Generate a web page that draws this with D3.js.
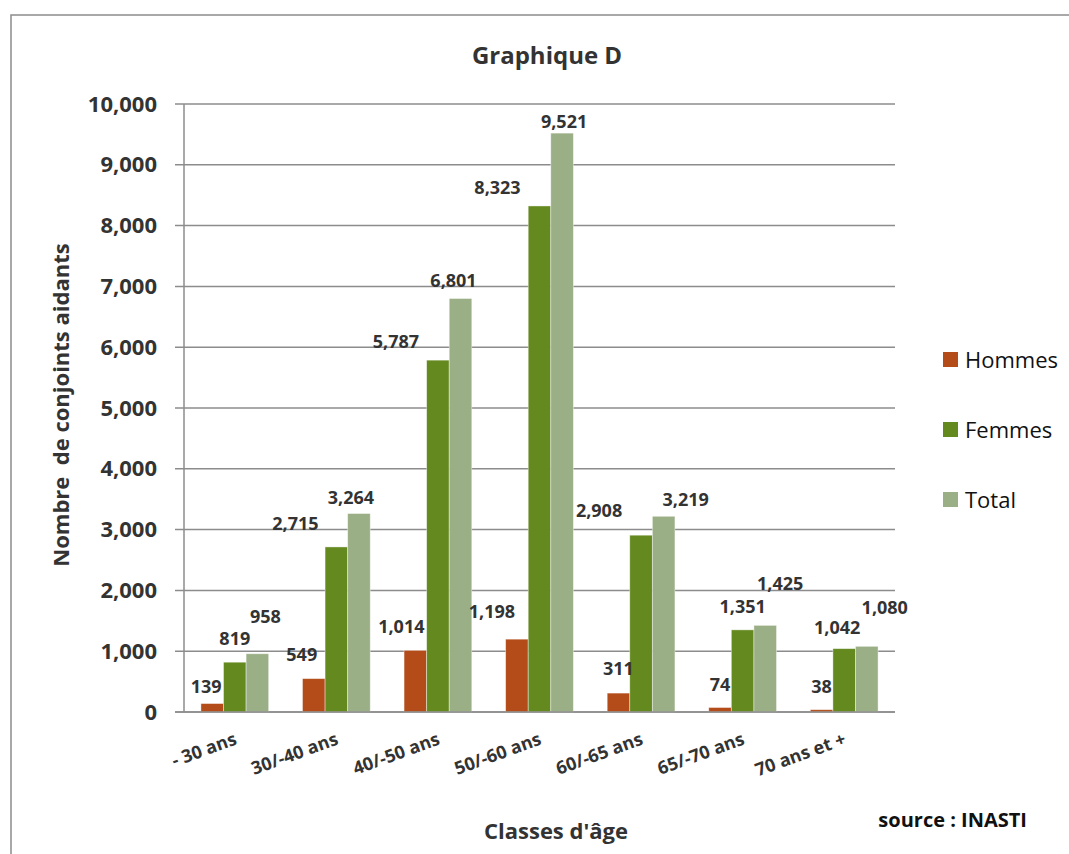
<!DOCTYPE html>
<html>
<head>
<meta charset="utf-8">
<script src="https://cdn.jsdelivr.net/npm/d3@7"></script>
<style>
  body { margin: 0; background: #fff; }
  text { font-family: "Open Sans", Lato, sans-serif; }
</style>
</head>
<body>
<svg id="chart"></svg>
<script>
// data
const categories = ["- 30 ans", "30/-40 ans", "40/-50 ans", "50/-60 ans", "60/-65 ans", "65/-70 ans", "70 ans et +"];
const seriesNames = ["Hommes", "Femmes", "Total"];
const hommes = [139, 549, 1014, 1198, 311, 74, 38];
const femmes = [819, 2715, 5787, 8323, 2908, 1351, 1042];
const total = [958, 3264, 6801, 9521, 3219, 1425, 1080];
const yTicks = [0, 1000, 2000, 3000, 4000, 5000, 6000, 7000, 8000, 9000, 10000];

// the labels in the original were hand-dragged, so keep their nudges apart
const nudgeX = [
  [-6, -12, -14, -25, 0, 0, 0],
  [0, -41, -42, -42, -42, 0, -7],
  [8, -8, -7, 2, 22, 15, 18]
];
const nudgeY = [
  [-3, -10, -9, -13, -10, -9, -9],
  [-9, -9, -4, -4, -10, -9, -7],
  [-23, -2, -3, 3, -2, -27, -24]
];

const colors = ["#b44c19", "#64891e", "#9baf86"];
const values = [hommes, femmes, total];

const width = 1069, height = 854;
const svg = d3.select("#chart").attr("width", width).attr("height", height);

// outer chart border (runs off the picture on the right and bottom)
svg.append("rect")
  .attr("x", 11).attr("y", 15)
  .attr("width", 1100).attr("height", 900)
  .attr("fill", "none").attr("stroke", "#8c8c8c").attr("stroke-width", 1.5);

const x0 = d3.scaleBand()
  .domain(categories)
  .range([184, 895])
  .paddingInner(0.333)
  .paddingOuter(0.1667);

const x1 = d3.scaleBand()
  .domain(seriesNames)
  .range([0, x0.bandwidth()]);

const y = d3.scaleLinear()
  .domain([0, 10000])
  .range([712, 104]);

// gridlines + y axis
const yAxis = d3.axisLeft(y)
  .tickValues(yTicks)
  .tickSize(0)
  .tickPadding(18)
  .tickFormat(d3.format(","));

svg.append("g")
  .selectAll("line")
  .data(yTicks)
  .join("line")
  .attr("x1", 175).attr("x2", 895)
  .attr("y1", d => y(d)).attr("y2", d => y(d))
  .attr("stroke", "#8c8c8c").attr("stroke-width", 1.5);

const gy = svg.append("g")
  .attr("transform", "translate(175,0)")
  .call(yAxis);
gy.select(".domain").remove();
gy.selectAll("text")
  .attr("font-size", 22).attr("font-weight", "bold").attr("fill", "#333")
  .style("font-family", "'Open Sans', sans-serif");

// bars
seriesNames.forEach((name, s) => {
  svg.append("g")
    .selectAll("rect")
    .data(values[s])
    .join("rect")
    .attr("x", (d, i) => x0(categories[i]) + x1(name))
    .attr("y", d => y(d))
    .attr("width", x1.bandwidth())
    .attr("height", d => y(0) - y(d))
    .attr("fill", colors[s])
    .attr("stroke", "#fff").attr("stroke-opacity", 0.5).attr("stroke-width", 0.8);
});

// vertical axis line drawn over bars
svg.append("line")
  .attr("x1", 184).attr("x2", 184)
  .attr("y1", y(10000)).attr("y2", y(0))
  .attr("stroke", "#8c8c8c").attr("stroke-width", 1.5);
svg.append("line")
  .attr("x1", 175).attr("x2", 895)
  .attr("y1", y(0)).attr("y2", y(0))
  .attr("stroke", "#8c8c8c").attr("stroke-width", 1.5);

// data labels
seriesNames.forEach((name, s) => {
  svg.append("g")
    .selectAll("text")
    .data(values[s])
    .join("text")
    .attr("x", (d, i) => x0(categories[i]) + x1(name) + x1.bandwidth() / 2 + nudgeX[s][i])
    .attr("y", (d, i) => y(d) - 8 + nudgeY[s][i])
    .attr("text-anchor", "middle")
    .attr("font-size", 18).attr("font-weight", "bold").attr("fill", "#333")
    .text(d => d3.format(",")(d));
});

// category labels, tilted
svg.append("g")
  .selectAll("text")
  .data(categories)
  .join("text")
  .attr("transform", d => `translate(${x0(d) + x0.bandwidth() / 2 + 3},${744}) rotate(-20)`)
  .attr("text-anchor", "end")
  .attr("font-size", 18).attr("font-weight", "bold").attr("fill", "#333")
  .text(d => d);

// titles
svg.append("text")
  .attr("x", 547).attr("y", 64)
  .attr("text-anchor", "middle")
  .attr("font-size", 24).attr("font-weight", "bold").attr("fill", "#333")
  .text("Graphique D");

svg.append("text")
  .attr("transform", "translate(69,405) rotate(-90)")
  .attr("text-anchor", "middle")
  .attr("font-size", 22).attr("font-weight", "bold").attr("fill", "#333")
  .attr("xml:space", "preserve")
  .style("white-space", "pre")
  .text("Nombre  de conjoints aidants");

svg.append("text")
  .attr("x", 556).attr("y", 839)
  .attr("text-anchor", "middle")
  .attr("font-size", 22).attr("font-weight", "bold").attr("fill", "#333")
  .text("Classes d'âge");

svg.append("text")
  .attr("x", 1027).attr("y", 827)
  .attr("text-anchor", "end")
  .attr("font-size", 20).attr("font-weight", "bold").attr("fill", "#111")
  .text("source : INASTI");

// legend
const legend = svg.append("g")
  .selectAll("g")
  .data(seriesNames)
  .join("g")
  .attr("transform", (d, i) => `translate(943,${352 + i * 70})`);
legend.append("rect")
  .attr("width", 15).attr("height", 15)
  .attr("fill", (d, i) => colors[i]);
legend.append("text")
  .attr("x", 22).attr("y", 16)
  .attr("font-size", 22).attr("fill", "#111")
  .text(d => d);
</script>
</body>
</html>
